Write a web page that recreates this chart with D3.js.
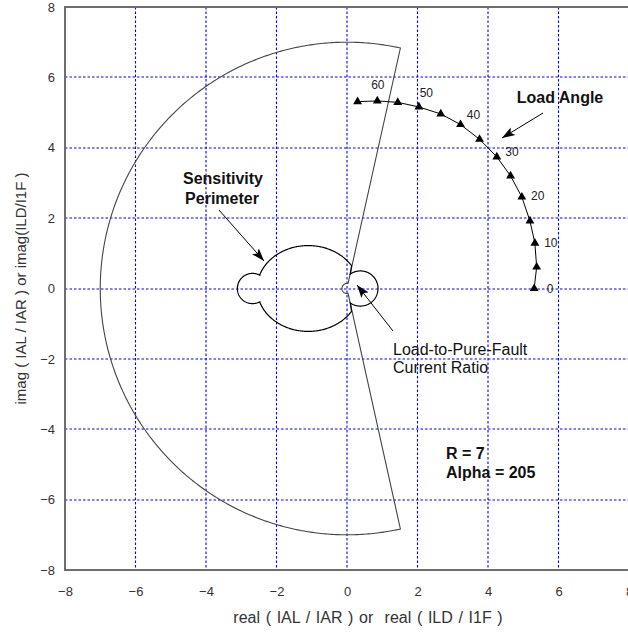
<!DOCTYPE html>
<html>
<head>
<meta charset="utf-8">
<script src="https://cdn.jsdelivr.net/npm/d3@7"></script>
<style>
  html, body { margin: 0; padding: 0; background: #fff; }
  svg { display: block; font-family: "Liberation Sans", Arial, Helvetica, sans-serif; }
</style>
</head>
<body>
<div id="chart"></div>
<script>
// Axis ticks and grid positions
const xTicks = [-8, -6, -4, -2, 0, 2, 4, 6, 8];
const yTicks = [-8, -6, -4, -2, 0, 2, 4, 6, 8];
const gridValues = [-6, -4, -2, 0, 2, 4, 6];

// Restraint region parameters (alpha plane)
const restraintR = 7;
const restraintAlpha = 205;

// Load angle trajectory (degrees) and its ratio in the complex plane
const loadAngles = [0, 5, 10, 15, 20, 25, 30, 35, 40, 45, 50, 55, 60, 65];
const loadReal   = [5.31, 5.38, 5.33, 5.19, 4.96, 4.64, 4.25, 3.76, 3.22, 2.66, 2.04, 1.44, 0.86, 0.30];
const loadImag   = [0.00, 0.61, 1.29, 1.92, 2.60, 3.20, 3.74, 4.24, 4.66, 4.96, 5.16, 5.29, 5.33, 5.31];
const loadLabelAngles = [0, 10, 20, 30, 40, 50, 60];

// Sensitivity perimeter: main lobe (ellipse) and the two side lobes (circles)
const mainLobe  = { cx: -1.1, cy: 0, rx: 1.45, ry: 1.22 };
const leftLobe  = { cx: -2.68, cy: 0, r: 0.43 };
const rightLobe = { cx: 0.38, cy: 0, r: 0.50 };

const W = 628, H = 633;
const x = d3.scaleLinear().domain([-8, 8]).range([65, 629]);
const y = d3.scaleLinear().domain([-8, 8]).range([570, 7]);
const rad = d => d * Math.PI / 180;

const svg = d3.select("#chart").append("svg")
  .attr("width", W).attr("height", H)
  .attr("viewBox", `0 0 ${W} ${H}`);

const defs = svg.append("defs");
defs.append("marker")
  .attr("id", "head")
  .attr("viewBox", "0 -5 14 10")
  .attr("refX", 13).attr("refY", 0)
  .attr("markerWidth", 14).attr("markerHeight", 10)
  .attr("markerUnits", "userSpaceOnUse")
  .attr("orient", "auto")
  .append("path")
  .attr("d", "M0,-4.5L13,0L0,4.5L3,0Z")
  .attr("fill", "#000");

svg.append("clipPath").attr("id", "plotClip")
  .append("rect")
  .attr("x", x(-8)).attr("y", y(8))
  .attr("width", x(8) - x(-8)).attr("height", y(-8) - y(8));

// Grid
const grid = svg.append("g").attr("stroke", "#0000ff").attr("stroke-width", 1.1)
  .attr("stroke-dasharray", "2.5,2").attr("fill", "none");
grid.selectAll("line.v").data(gridValues).join("line")
  .attr("class", "v")
  .attr("x1", d => x(d)).attr("x2", d => x(d))
  .attr("y1", y(8)).attr("y2", y(-8));
grid.selectAll("line.h").data(gridValues).join("line")
  .attr("class", "h")
  .attr("y1", d => Math.round(y(d))).attr("y2", d => Math.round(y(d)))
  .attr("x1", x(-8)).attr("x2", x(8));

const plot = svg.append("g").attr("clip-path", "url(#plotClip)");

// Restraint region: annular sector between radius 1/R and R, spanning alpha degrees about 180
const a0 = 180 - restraintAlpha / 2, a1 = 180 + restraintAlpha / 2;
const outerArc = d3.range(a0, a1 + 0.001, 0.5).map(a => [restraintR * Math.cos(rad(a)), restraintR * Math.sin(rad(a))]);
const innerArc = d3.range(a1, a0 - 0.001, -2).map(a => [Math.cos(rad(a)) / restraintR, Math.sin(rad(a)) / restraintR]);
const line = d3.line().x(d => x(d[0])).y(d => y(d[1]));
plot.append("path")
  .attr("d", line(outerArc.concat(innerArc)) + "Z")
  .attr("fill", "none").attr("stroke", "#444").attr("stroke-width", 1.1);

// Sensitivity perimeter outline
const ellPt = t => [mainLobe.cx + mainLobe.rx * Math.cos(rad(t)), mainLobe.cy + mainLobe.ry * Math.sin(rad(t))];
const cirPt = (c, t) => [c.cx + c.r * Math.cos(rad(t)), c.cy + c.r * Math.sin(rad(t))];
const perim = []
  .concat(d3.range(32, 161.01, 1).map(ellPt))
  .concat(d3.range(61, 299.01, 2).map(t => cirPt(leftLobe, t)))
  .concat(d3.range(199, 328.01, 1).map(ellPt))
  .concat(d3.range(-125, 125.01, 2).map(t => cirPt(rightLobe, t)));
plot.append("path")
  .attr("d", line(perim) + "Z")
  .attr("fill", "none").attr("stroke", "#000").attr("stroke-width", 1.2);

// Load angle trajectory with triangle markers
const loadPts = loadAngles.map((a, i) => [loadReal[i], loadImag[i]]);
plot.append("path")
  .attr("d", line(loadPts))
  .attr("fill", "none").attr("stroke", "#000").attr("stroke-width", 1);
plot.selectAll("path.tri").data(loadPts).join("path")
  .attr("class", "tri")
  .attr("d", d3.symbol(d3.symbolTriangle, 34))
  .attr("transform", d => `translate(${x(d[0])},${y(d[1])})`)
  .attr("fill", "#000");

// Angle labels: pushed outward off the trajectory, leaning more horizontal on the lower part
svg.append("g").selectAll("text").data(loadLabelAngles).join("text")
  .each(function (a) {
    const i = loadAngles.indexOf(a);
    const p0 = loadPts[Math.max(0, i - 1)], p1 = loadPts[Math.min(loadPts.length - 1, i + 1)];
    const tx = x(p1[0]) - x(p0[0]), ty = y(p0[1]) - y(p1[1]);
    let n = Math.atan2(-tx, ty) * 180 / Math.PI;   // outward normal, degrees (up positive)
    n = n * Math.abs(n) / 90;
    const px = x(loadPts[i][0]) + 16 * Math.cos(rad(n));
    const py = y(loadPts[i][1]) - 16 * Math.sin(rad(n));
    d3.select(this).attr("x", px).attr("y", py);
  })
  .attr("text-anchor", "middle").attr("dy", "0.35em")
  .attr("font-size", 12).attr("fill", "#222")
  .text(d => d);

// Frame
svg.append("rect")
  .attr("x", x(-8)).attr("y", y(8))
  .attr("width", x(8) - x(-8)).attr("height", y(-8) - y(8))
  .attr("fill", "none").attr("stroke", "#6e6e6e").attr("stroke-width", 2);

// Axes (labels only)
const xAxis = svg.append("g").attr("transform", `translate(0,${y(-8)})`)
  .call(d3.axisBottom(x).tickValues(xTicks).tickSize(0).tickPadding(17));
const yAxis = svg.append("g").attr("transform", `translate(${x(-8)},0)`)
  .call(d3.axisLeft(y).tickValues(yTicks).tickSize(0).tickPadding(10));
[xAxis, yAxis].forEach(g => {
  g.select(".domain").remove();
  g.selectAll("text").attr("font-size", 13).attr("fill", "#333")
    .attr("font-family", "'Liberation Sans', Arial, sans-serif");
});

// Axis titles
svg.append("text")
  .attr("x", 368).attr("y", 617).attr("dy", "0.35em")
  .attr("text-anchor", "middle").attr("font-size", 16).attr("fill", "#333")
  .attr("word-spacing", 1.2)
  .attr("xml:space", "preserve")
  .text("real ( IAL / IAR ) or  real ( ILD / I1F )");
svg.append("text")
  .attr("transform", `translate(21,${y(0)}) rotate(-90)`)
  .attr("dy", "0.35em")
  .attr("text-anchor", "middle").attr("font-size", 15).attr("fill", "#333")
  .text("imag ( IAL / IAR ) or imag(ILD/I1F )");

// Annotations
const ann = svg.append("g").attr("fill", "#111");
ann.append("text").attr("x", 223).attr("y", 178).attr("dy", "0.35em")
  .attr("text-anchor", "middle").attr("font-weight", "bold").attr("font-size", 16)
  .text("Sensitivity");
ann.append("text").attr("x", 222).attr("y", 198).attr("dy", "0.35em")
  .attr("text-anchor", "middle").attr("font-weight", "bold").attr("font-size", 16)
  .text("Perimeter");
ann.append("text").attr("x", 560).attr("y", 97).attr("dy", "0.35em")
  .attr("text-anchor", "middle").attr("font-weight", "bold").attr("font-size", 16)
  .text("Load Angle");
ann.append("text").attr("x", 393).attr("y", 349).attr("dy", "0.35em")
  .attr("font-size", 16).text("Load-to-Pure-Fault");
ann.append("text").attr("x", 393).attr("y", 367).attr("dy", "0.35em")
  .attr("font-size", 16).text("Current Ratio");
ann.append("text").attr("x", 446).attr("y", 453).attr("dy", "0.35em")
  .attr("font-weight", "bold").attr("font-size", 16).text(`R = ${restraintR}`);
ann.append("text").attr("x", 446).attr("y", 472).attr("dy", "0.35em")
  .attr("font-weight", "bold").attr("font-size", 16).text(`Alpha = ${restraintAlpha}`);

// Pointer arrows
const arrows = [
  [[219, 210], [264, 261]],
  [[543, 113], [502, 138]],
  [[393, 331], [357, 285]]
];
svg.append("g").selectAll("line").data(arrows).join("line")
  .attr("x1", d => d[0][0]).attr("y1", d => d[0][1])
  .attr("x2", d => d[1][0]).attr("y2", d => d[1][1])
  .attr("stroke", "#000").attr("stroke-width", 1)
  .attr("marker-end", "url(#head)");
</script>
</body>
</html>
